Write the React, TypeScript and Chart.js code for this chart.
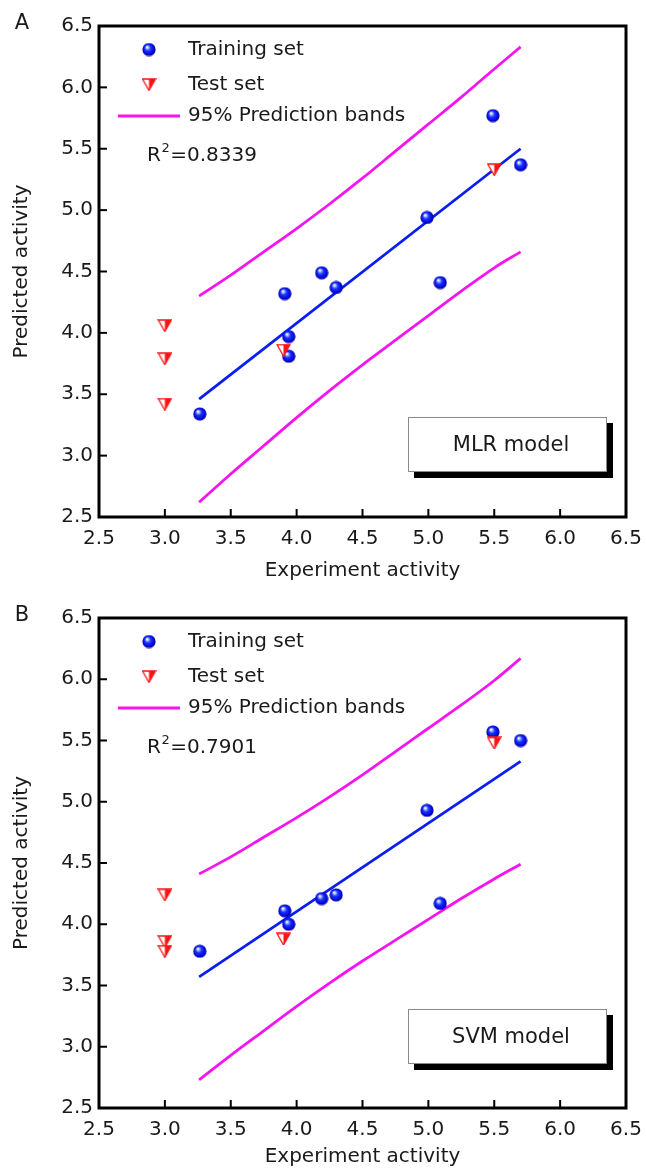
import React, { useEffect, useRef } from 'react';
import { Chart, registerables } from 'chart.js';

Chart.register(...registerables);

// ---------- data ----------
const tickValues = [2.5, 3.0, 3.5, 4.0, 4.5, 5.0, 5.5, 6.0, 6.5];

const bandX = [3.26, 3.5, 3.75, 4.0, 4.25, 4.5, 4.75, 5.0, 5.25, 5.5, 5.7];
const fitX = [3.26, 5.7];

// Panel A: MLR model
const mlrTrainX = [3.265, 3.91, 3.94, 3.94, 4.19, 4.3, 4.99, 5.09, 5.49, 5.7];
const mlrTrainY = [3.34, 4.32, 3.97, 3.81, 4.49, 4.37, 4.94, 4.41, 5.77, 5.37];
const mlrTestX = [3.0, 3.0, 3.0, 3.9, 5.5];
const mlrTestY = [4.06, 3.79, 3.42, 3.86, 5.33];
const mlrFit = [3.46, 5.5];
const mlrUpper = [4.3, 4.47, 4.66, 4.85, 5.05, 5.26, 5.48, 5.7, 5.92, 6.15, 6.33];
const mlrLower = [2.62, 2.85, 3.08, 3.31, 3.53, 3.74, 3.94, 4.14, 4.34, 4.53, 4.66];

// Panel B: SVM model
const svmTrainX = [3.265, 3.91, 3.94, 4.19, 4.3, 4.99, 5.09, 5.49, 5.7];
const svmTrainY = [3.78, 4.11, 4.0, 4.21, 4.24, 4.93, 4.17, 5.57, 5.5];
const svmTestX = [3.0, 3.0, 3.0, 3.9, 5.5];
const svmTestY = [4.24, 3.86, 3.78, 3.88, 5.48];
const svmFit = [3.57, 5.33];
const svmUpper = [4.41, 4.55, 4.71, 4.87, 5.04, 5.22, 5.41, 5.6, 5.79, 5.99, 6.17];
const svmLower = [2.73, 2.93, 3.13, 3.33, 3.52, 3.7, 3.87, 4.04, 4.21, 4.37, 4.49];

// ---------- styling ----------
const FONT = '"DejaVu Sans", "Liberation Sans", sans-serif';
const TEXT = '#1a1a1a';
const BLUE = 'rgb(10, 30, 240)';
const MAGENTA = 'rgb(245, 20, 240)';
const W = 646;
const H = 585;

function makeSphere(): HTMLCanvasElement {
  const c = document.createElement('canvas');
  c.width = 14;
  c.height = 14;
  const g = c.getContext('2d')!;
  const grad = g.createRadialGradient(5, 4.5, 0.4, 7, 7, 7);
  grad.addColorStop(0, '#ffffff');
  grad.addColorStop(0.18, '#9aa8ff');
  grad.addColorStop(0.4, '#1a34ff');
  grad.addColorStop(0.85, '#0000cc');
  grad.addColorStop(1, '#000080');
  g.fillStyle = grad;
  g.beginPath();
  g.arc(7, 7, 6.6, 0, Math.PI * 2);
  g.fill();
  return c;
}

function makeTriangle(): HTMLCanvasElement {
  const c = document.createElement('canvas');
  c.width = 15;
  c.height = 13;
  const g = c.getContext('2d')!;
  g.fillStyle = '#ffffff';
  g.beginPath();
  g.moveTo(1, 1);
  g.lineTo(14, 1);
  g.lineTo(7.5, 12.5);
  g.closePath();
  g.fill();
  g.fillStyle = 'rgb(250, 20, 20)';
  g.beginPath();
  g.moveTo(7.5, 1);
  g.lineTo(14, 1);
  g.lineTo(7.5, 12.5);
  g.closePath();
  g.fill();
  g.strokeStyle = 'rgb(250, 20, 20)';
  g.lineWidth = 1.3;
  g.beginPath();
  g.moveTo(1, 1);
  g.lineTo(14, 1);
  g.lineTo(7.5, 12.5);
  g.closePath();
  g.stroke();
  return c;
}

interface PanelCfg {
  letter: string;
  r2: string;
  model: string;
  trainX: number[];
  trainY: number[];
  testX: number[];
  testY: number[];
  fit: number[];
  upper: number[];
  lower: number[];
  top: number;
  bottom: number;
  titlePad: number;
}

const pts = (xs: number[], ys: number[]) => xs.map((x, i) => ({ x, y: ys[i] }));

function buildChart(canvas: HTMLCanvasElement, cfg: PanelCfg) {
  const sphere = makeSphere();
  const tri = makeTriangle();

  const decor = {
    id: 'decor',
    afterDraw(chart: any) {
      const { ctx, chartArea } = chart;
      const { left, right, top, bottom } = chartArea;
      const xs = chart.scales.x;
      const ys = chart.scales.y;
      ctx.save();
      // inward ticks
      ctx.strokeStyle = '#000';
      ctx.lineWidth = 2;
      xs.ticks.forEach((t: any) => {
        const px = xs.getPixelForValue(t.value);
        ctx.beginPath();
        ctx.moveTo(px, bottom);
        ctx.lineTo(px, bottom - 8);
        ctx.stroke();
      });
      ys.ticks.forEach((t: any) => {
        const py = ys.getPixelForValue(t.value);
        ctx.beginPath();
        ctx.moveTo(left, py);
        ctx.lineTo(left + 8, py);
        ctx.stroke();
      });
      // frame
      ctx.lineWidth = 3;
      ctx.strokeRect(left, top, right - left, bottom - top);

      // panel letter
      ctx.fillStyle = TEXT;
      ctx.font = `21px ${FONT}`;
      ctx.textAlign = 'center';
      ctx.textBaseline = 'middle';
      ctx.fillText(cfg.letter, 22, top - 2);

      // legend
      ctx.drawImage(sphere, 149 - 7, top + 23.5 - 7);
      ctx.drawImage(tri, 149 - 7.5, top + 58.5 - 6.5);
      ctx.strokeStyle = MAGENTA;
      ctx.lineWidth = 2.8;
      ctx.beginPath();
      ctx.moveTo(118, top + 90);
      ctx.lineTo(180, top + 90);
      ctx.stroke();
      ctx.fillStyle = TEXT;
      ctx.font = `20px ${FONT}`;
      ctx.textAlign = 'left';
      ctx.fillText('Training set', 188, top + 23.5);
      ctx.fillText('Test set', 188, top + 58.5);
      ctx.fillText('95% Prediction bands', 188, top + 90);

      // R^2
      const ry = top + 130;
      ctx.fillText('R', 147, ry);
      const rw = ctx.measureText('R').width;
      ctx.font = `13px ${FONT}`;
      ctx.fillText('2', 147 + rw + 0.5, ry - 7);
      const sw = ctx.measureText('2').width;
      ctx.font = `20px ${FONT}`;
      ctx.fillText('=' + cfg.r2, 147 + rw + sw + 1, ry);

      // model box
      const bx = 408;
      const by = top + 391;
      const bw = 199;
      const bh = 55;
      ctx.fillStyle = '#000';
      ctx.fillRect(bx + 6, by + 6, bw, bh);
      ctx.fillStyle = '#fff';
      ctx.fillRect(bx, by, bw, bh);
      ctx.strokeStyle = '#8a8a8a';
      ctx.lineWidth = 1;
      ctx.strokeRect(bx + 0.5, by + 0.5, bw - 1, bh - 1);
      ctx.fillStyle = TEXT;
      ctx.font = `21px ${FONT}`;
      ctx.textAlign = 'center';
      ctx.fillText(cfg.model, 511, top + 419.5);
      ctx.restore();
    },
  };

  const tickFont = { family: FONT, size: 20 };

  return new Chart(canvas, {
    type: 'scatter',
    data: {
      datasets: [
        {
          label: 'Test set',
          data: pts(cfg.testX, cfg.testY),
          pointStyle: tri as any,
          pointRadius: 7,
          order: 0,
        },
        {
          label: 'Training set',
          data: pts(cfg.trainX, cfg.trainY),
          pointStyle: sphere as any,
          pointRadius: 7,
          order: 1,
        },
        {
          label: 'Fit',
          data: pts(fitX, cfg.fit),
          showLine: true,
          borderColor: BLUE,
          borderWidth: 2.8,
          pointRadius: 0,
          order: 2,
        },
        {
          label: '95% Prediction bands',
          data: pts(bandX, cfg.upper),
          showLine: true,
          borderColor: MAGENTA,
          borderWidth: 2.8,
          pointRadius: 0,
          cubicInterpolationMode: 'monotone',
          order: 3,
        },
        {
          label: '95% Prediction bands (lower)',
          data: pts(bandX, cfg.lower),
          showLine: true,
          borderColor: MAGENTA,
          borderWidth: 2.8,
          pointRadius: 0,
          cubicInterpolationMode: 'monotone',
          order: 4,
        },
      ] as any,
    },
    options: {
      responsive: false,
      animation: false,
      devicePixelRatio: 1,
      events: [],
      layout: { padding: { left: 0, right: 20, top: cfg.top, bottom: 0 } },
      plugins: {
        legend: { display: false },
        tooltip: { enabled: false },
        title: { display: false },
      },
      scales: {
        x: {
          type: 'linear',
          min: tickValues[0],
          max: tickValues[tickValues.length - 1],
          afterBuildTicks: (s: any) => {
            s.ticks = tickValues.map((v) => ({ value: v }));
          },
          ticks: {
            callback: (v: any) => Number(v).toFixed(1),
            font: tickFont,
            color: TEXT,
            padding: 10,
            maxRotation: 0,
            autoSkip: false,
          },
          grid: { display: false, drawTicks: false },
          border: { display: false },
          title: {
            display: true,
            text: 'Experiment activity',
            font: { family: FONT, size: 20 },
            color: TEXT,
            padding: { top: 0, bottom: cfg.titlePad },
          },
          afterFit: (s: any) => {
            s.height = H - cfg.bottom;
            s.paddingLeft = 0;
            s.paddingRight = 0;
          },
        },
        y: {
          type: 'linear',
          min: tickValues[0],
          max: tickValues[tickValues.length - 1],
          afterBuildTicks: (s: any) => {
            s.ticks = tickValues.map((v) => ({ value: v }));
          },
          ticks: {
            callback: (v: any) => Number(v).toFixed(1),
            font: tickFont,
            color: TEXT,
            padding: 6,
            autoSkip: false,
          },
          grid: { display: false, drawTicks: false },
          border: { display: false },
          title: {
            display: true,
            text: 'Predicted activity',
            font: { family: FONT, size: 20 },
            color: TEXT,
            padding: { top: 10, bottom: 0 },
          },
          afterFit: (s: any) => {
            s.width = 99;
            s.paddingTop = 0;
            s.paddingBottom = 0;
          },
        },
      },
    } as any,
    plugins: [decor],
  });
}

export default function App() {
  const refA = useRef<HTMLCanvasElement>(null);
  const refB = useRef<HTMLCanvasElement>(null);

  useEffect(() => {
    document.body.style.margin = '0';
    const a = buildChart(refA.current!, {
      letter: 'A',
      r2: '0.8339',
      model: 'MLR model',
      trainX: mlrTrainX,
      trainY: mlrTrainY,
      testX: mlrTestX,
      testY: mlrTestY,
      fit: mlrFit,
      upper: mlrUpper,
      lower: mlrLower,
      top: 26,
      bottom: 517,
      titlePad: 2,
    });
    const b = buildChart(refB.current!, {
      letter: 'B',
      r2: '0.7901',
      model: 'SVM model',
      trainX: svmTrainX,
      trainY: svmTrainY,
      testX: svmTestX,
      testY: svmTestY,
      fit: svmFit,
      upper: svmUpper,
      lower: svmLower,
      top: 33,
      bottom: 523,
      titlePad: 1,
    });
    return () => {
      a.destroy();
      b.destroy();
    };
  }, []);

  return (
    <div style={{ position: 'relative', width: W, height: H * 2, background: '#fff' }}>
      <canvas ref={refA} width={W} height={H} style={{ display: 'block', width: W, height: H }} />
      <canvas ref={refB} width={W} height={H} style={{ display: 'block', width: W, height: H }} />
    </div>
  );
}
